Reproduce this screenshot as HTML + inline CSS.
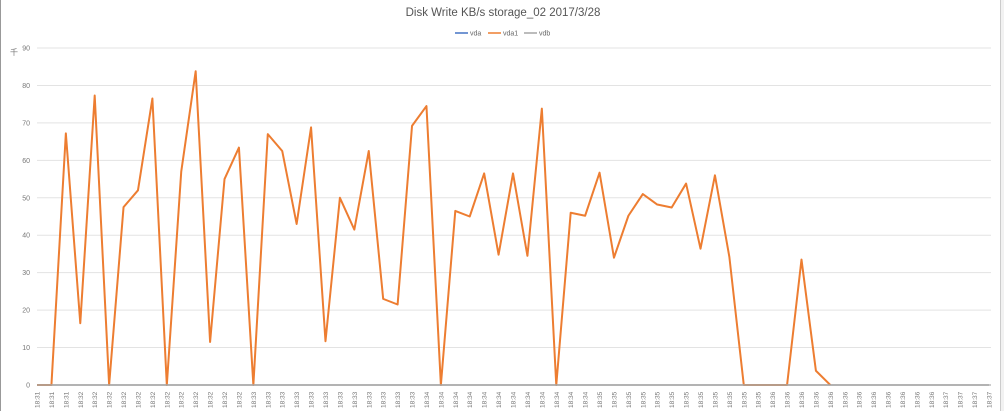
<!DOCTYPE html>
<html><head><meta charset="utf-8"><style>
body{margin:0;width:1004px;height:411px;background:#fff;overflow:hidden;font-family:"Liberation Sans","Noto Sans CJK SC",sans-serif}
</style></head><body>
<svg id="chart" width="1004" height="411" xmlns="http://www.w3.org/2000/svg">
<rect x="0" y="0" width="1004" height="411" fill="#fff"/>
<line x1="0.5" y1="0" x2="0.5" y2="411" stroke="#999" stroke-width="1"/>
<rect x="1000" y="0" width="4" height="411" fill="#f2f2f2"/>
<line x1="1000.5" y1="0" x2="1000.5" y2="411" stroke="#ccc"/>
<text x="503" y="16" text-anchor="middle" font-size="11.5" fill="#555">Disk Write KB/s storage_02  2017/3/28</text>
<g font-size="7" fill="#666">
<g><line x1="455" y1="33" x2="468" y2="33" stroke="#4472c4" stroke-width="1.5"/><text x="470" y="35.5">vda</text></g>
<g><line x1="488" y1="33" x2="501" y2="33" stroke="#ed7d31" stroke-width="1.5"/><text x="503" y="35.5">vda1</text></g>
<g><line x1="524" y1="33" x2="537" y2="33" stroke="#a5a5a5" stroke-width="1.5"/><text x="539" y="35.5">vdb</text></g>
</g>
<text x="14" y="55" font-size="8" fill="#777" text-anchor="middle">千</text>
<g id="grid"></g><g id="yticks"></g><g id="xticks"></g><g id="series"></g>
</svg>
<script>
const categories = ["18:31","18:31","18:31","18:32","18:32","18:32","18:32","18:32","18:32","18:32","18:32","18:32","18:32","18:32","18:32","18:33","18:33","18:33","18:33","18:33","18:33","18:33","18:33","18:33","18:33","18:33","18:33","18:34","18:34","18:34","18:34","18:34","18:34","18:34","18:34","18:34","18:34","18:34","18:34","18:35","18:35","18:35","18:35","18:35","18:35","18:35","18:35","18:35","18:35","18:35","18:35","18:36","18:36","18:36","18:36","18:36","18:36","18:36","18:36","18:36","18:36","18:36","18:36","18:37","18:37","18:37","18:37"];
const vda1 = [0,0,67.2,16.5,77.3,0,47.5,52,76.5,0,57,83.8,11.5,55,63.4,0,67,62.5,43,68.8,11.7,50,41.5,62.5,23,21.5,69.2,74.5,0,46.5,45,56.5,34.8,56.5,34.5,73.8,0,46,45.2,56.7,34,45.2,51,48.2,47.4,53.8,36.4,56,34.2,0,0,0,0,33.5,3.8,0];
const vdb = categories.map(()=>0);
const yTicks = [0,10,20,30,40,50,60,70,80,90];
const X0=37,X1=989,Y0=385,YT=48,YMAX=90;
const ns="http://www.w3.org/2000/svg";
const x=i=>X0+i*(X1-X0)/(categories.length-1);
const y=v=>Y0-(v/YMAX)*(Y0-YT);
function mk(t,a,p){const e=document.createElementNS(ns,t);for(const k in a)e.setAttribute(k,a[k]);p.appendChild(e);return e;}
const grid=document.getElementById('grid'),yt=document.getElementById('yticks'),xt=document.getElementById('xticks'),se=document.getElementById('series');
yTicks.forEach(v=>{
  const l=mk('line',{x1:37,x2:991,y1:y(v),y2:y(v),stroke:v===0?'#bbb':'#e3e3e3','stroke-width':v===0?1.5:1},grid);
  
  
  const t=mk('text',{x:30,y:y(v)+2.5,'text-anchor':'end','font-size':7,fill:'#777'},yt);
  t.textContent=v;
  
  
});
categories.forEach((c,i)=>{
  const t=mk('text',{transform:`translate(${x(i)+2.5},408) rotate(-90)`,'font-size':6.5,fill:'#777'},xt);
  t.textContent=c;
  
  
});
const p1=mk('polyline',{points:vda1.map((v,i)=>x(i)+','+y(v)).join(' '),fill:'none',stroke:'#ed7d31','stroke-width':2,'stroke-linejoin':'round'},se);


const p2=mk('polyline',{points:vdb.map((v,i)=>x(i)+','+y(v)).join(' '),fill:'none',stroke:'#a5a5a5','stroke-width':1.5},se);


</script>
</body></html>
